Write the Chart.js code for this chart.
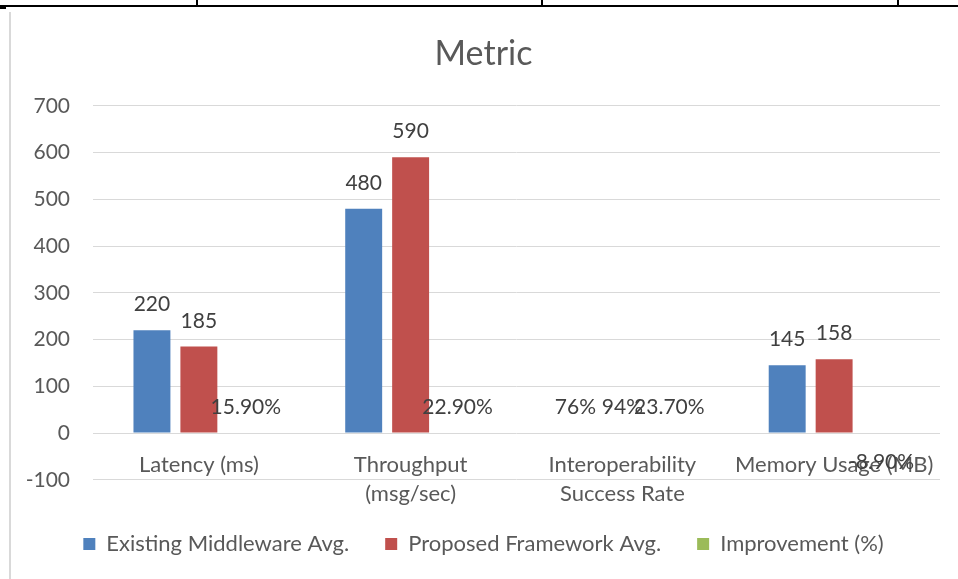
<!DOCTYPE html>
<html>
<head>
<meta charset="utf-8">
<script src="https://cdn.jsdelivr.net/npm/chart.js@4.4.1/dist/chart.umd.min.js"></script>
<style>
  html, body { margin: 0; padding: 0; background: #fff; overflow: hidden; }
  #page { position: relative; width: 958px; height: 579px; }
  .rule { position: absolute; background: #000; }
  #leftEdge { position: absolute; left: 9px; top: 12px; width: 2px; bottom: 0; background: #d9d9d9; }
  #wrap { position: absolute; left: 22px; top: 10px; width: 936px; height: 569px; }
</style>
</head>
<body>
<div id="page">
  <div class="rule" style="left:0;top:5px;width:958px;height:2px"></div>
  <div class="rule" style="left:196px;top:0;width:2px;height:6px"></div>
  <div class="rule" style="left:541px;top:0;width:2px;height:6px"></div>
  <div class="rule" style="left:897px;top:0;width:2px;height:6px"></div>
  <div class="rule" style="left:0;top:7px;width:6px;height:2px"></div>
  <div id="leftEdge"></div>
  <div id="wrap"><canvas id="mycanvas"></canvas></div>
</div>
<script>
var categories = [["Latency (ms)"], ["Throughput", "(msg/sec)"], ["Interoperability", "Success Rate"], ["Memory Usage (MB)"]];
var existingAvg = [220, 480, 0.76, 145];
var proposedAvg = [185, 590, 0.94, 158];
var improvement = [0.159, 0.229, 0.237, -0.089];
var yTicks = [-100, 0, 100, 200, 300, 400, 500, 600, 700];

var seriesColors = ["#4f81bd", "#c0504d", "#9bbb59"];
var FONT = "Lato, 'Open Sans', sans-serif";
var TEXT = "#595959";

function fmtValue(v) {
  return v < 1 ? Math.round(v * 100) + "%" : String(v);
}
function fmtPercent(v) {
  return (v * 100).toFixed(2) + "%";
}

// bars thinner than a pixel don't show up in the original, so skip the fill for those
function barColor(color) {
  return function(c) {
    if (c.type !== "data") return color;
    var y = c.chart.scales.y;
    var h = Math.abs(y.getPixelForValue(c.raw) - y.getPixelForValue(0));
    return h < 1 ? "rgba(0,0,0,0)" : color;
  };
}

// draws the value above (or below, for negatives) each bar, like Excel's "outside end"
var barLabels = {
  id: "barLabels",
  afterDatasetsDraw: function(chart) {
    var ctx = chart.ctx;
    ctx.save();
    ctx.font = "21px " + FONT;
    ctx.fillStyle = "#404040";
    ctx.textAlign = "center";
    ctx.textBaseline = "alphabetic";
    chart.data.datasets.forEach(function(ds, i) {
      var meta = chart.getDatasetMeta(i);
      meta.data.forEach(function(bar, j) {
        var v = ds.data[j];
        var txt = ds.fmt(v);
        if (v >= 0) {
          ctx.fillText(txt, bar.x, bar.y - 19);
        } else {
          ctx.fillText(txt, bar.x, bar.y + 36);
        }
      });
    });
    ctx.restore();
  }
};

var chartdata = {
  labels: categories,
  datasets: [
    {
      label: "Existing Middleware Avg.",
      backgroundColor: barColor(seriesColors[0]),
      data: existingAvg,
      fmt: fmtValue
    },
    {
      label: "Proposed Framework Avg.",
      backgroundColor: barColor(seriesColors[1]),
      data: proposedAvg,
      fmt: fmtValue
    },
    {
      label: "Improvement (%)",
      backgroundColor: barColor(seriesColors[2]),
      data: improvement,
      fmt: fmtPercent
    }
  ]
};

var ctx = document.getElementById("mycanvas");

var BarGraph = new Chart(ctx, {
  type: "bar",
  data: chartdata,
  plugins: [barLabels],
  options: {
    responsive: true,
    maintainAspectRatio: false,
    animation: false,
    categoryPercentage: 0.665,
    barPercentage: 0.787,
    inflateAmount: 0,
    layout: { padding: { left: 5, right: 18, top: 6, bottom: 14 } },
    plugins: {
      title: {
        display: true,
        text: "Metric",
        color: TEXT,
        font: { family: FONT, size: 34, weight: "normal" },
        padding: { top: 18, bottom: 31 }
      },
      legend: {
        position: "bottom",
        // empty title only used as a spacer under the axis labels
        title: { display: true, text: "", font: { size: 1 }, padding: { top: 16, bottom: 0 } },
        labels: {
          color: TEXT,
          font: { family: FONT, size: 22 },
          boxWidth: 12,
          boxHeight: 12,
          padding: 36,
          generateLabels: function(chart) {
            var items = Chart.defaults.plugins.legend.labels.generateLabels(chart);
            items.forEach(function(it) {
              it.fillStyle = seriesColors[it.datasetIndex];
              it.strokeStyle = seriesColors[it.datasetIndex];
              it.lineWidth = 0;
            });
            return items;
          }
        }
      },
      tooltip: { enabled: false }
    },
    scales: {
      x: {
        axis: "x",
        position: { y: 0 },
        grid: { display: false, drawTicks: false },
        border: { display: false },
        ticks: {
          color: TEXT,
          font: { family: FONT, size: 22, lineHeight: 1.32 },
          padding: 17,
          maxRotation: 0,
          autoSkip: false
        }
      },
      y: {
        min: yTicks[0],
        max: yTicks[yTicks.length - 1],
        afterBuildTicks: function(scale) {
          scale.ticks = yTicks.map(function(v) { return { value: v }; });
        },
        afterFit: function(scale) { scale.width = 66; },
        grid: { color: "#d9d9d9", drawTicks: false },
        border: { display: false },
        ticks: {
          color: TEXT,
          font: { family: FONT, size: 21 },
          padding: 23
        }
      }
    }
  }
});
</script>
</body>
</html>
